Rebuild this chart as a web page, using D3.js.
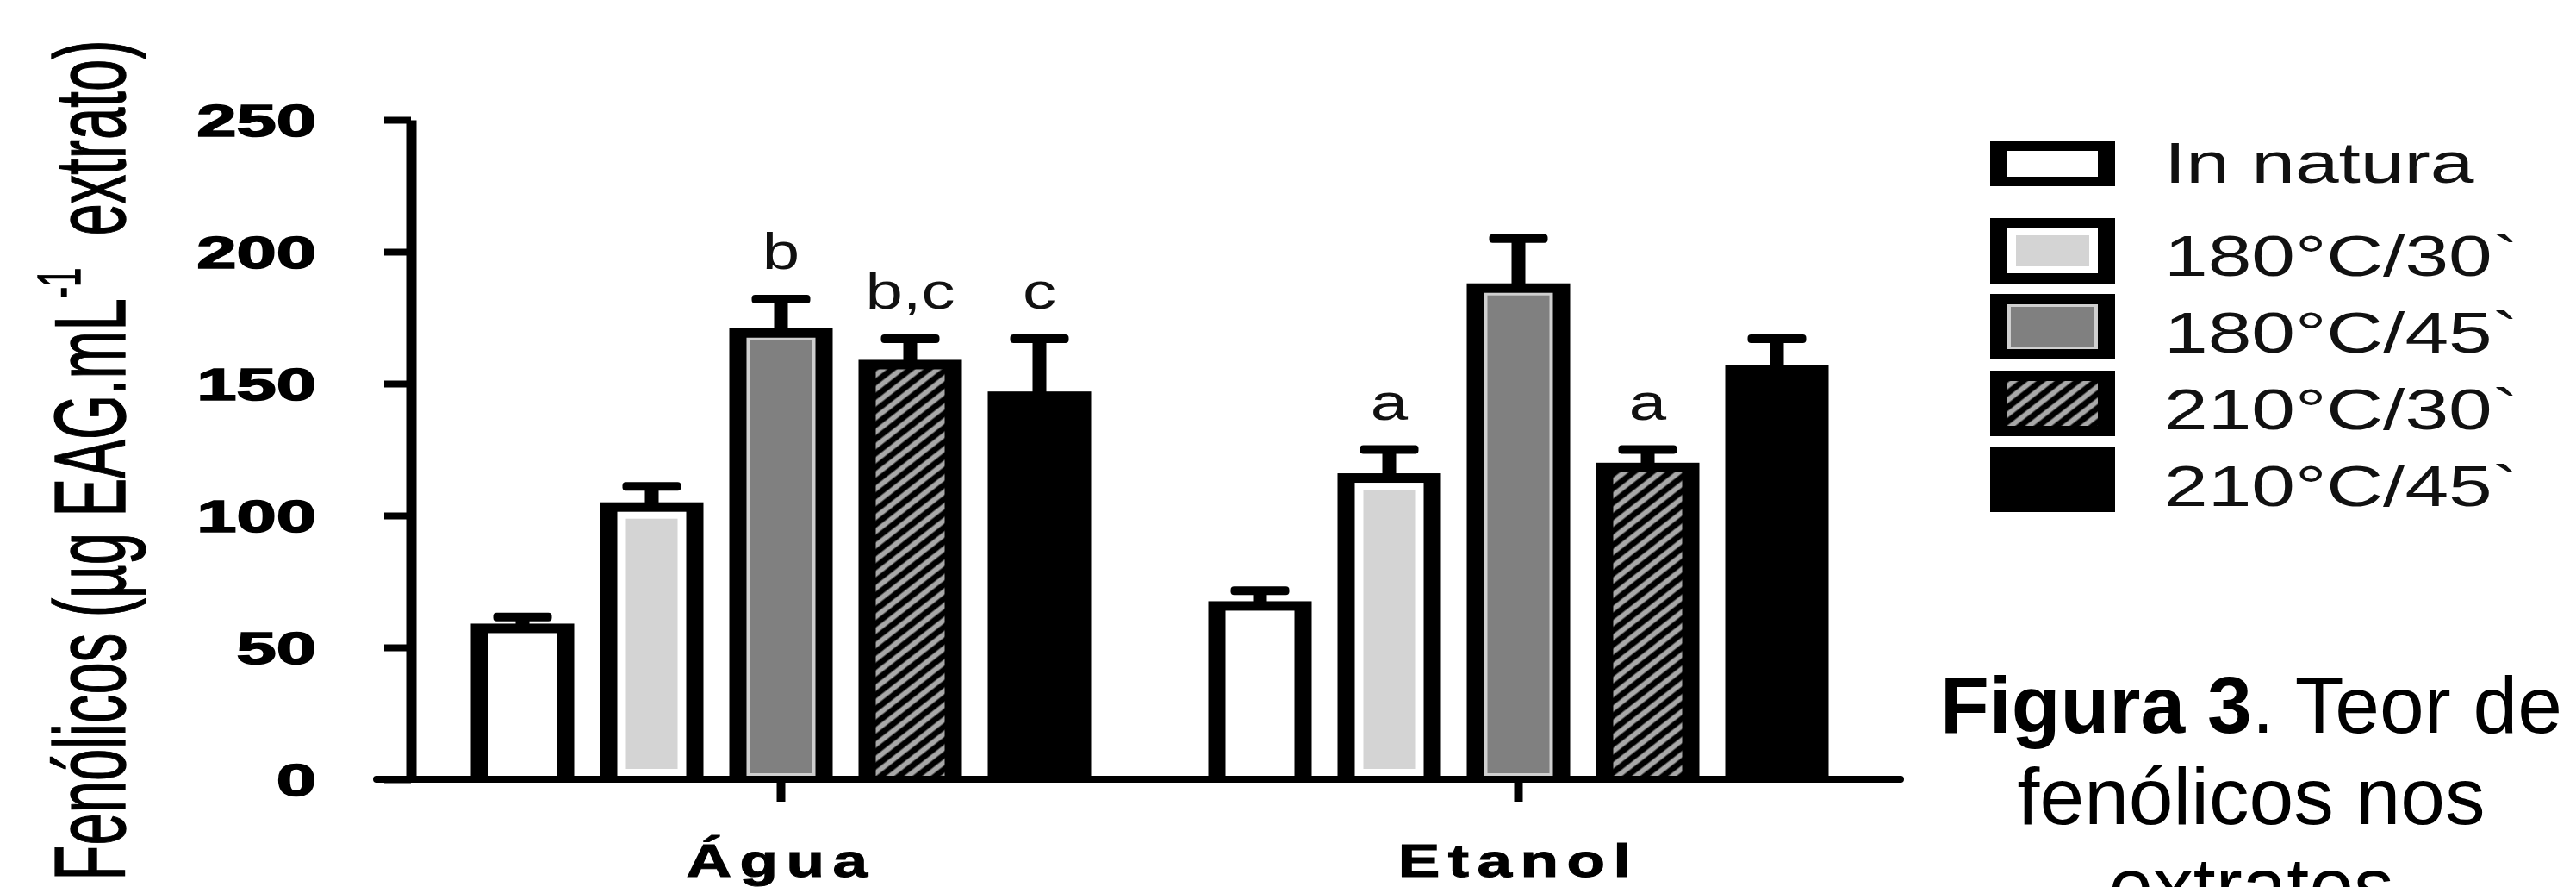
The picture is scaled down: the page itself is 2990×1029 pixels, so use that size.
<!DOCTYPE html>
<html lang="pt">

<head>
	<meta charset="utf-8">
	<title>Figura 3</title>
	<style>
		body {
			margin: 0;
			background: #fff;
		}

		svg {
			display: block;
			font-family: "Liberation Sans", Arial, sans-serif;
		}
	</style>
</head>

<body>
	<script src="https://d3js.org/d3.v7.min.js"></script>
	<script>
		// values
		var categories = ["Água", "Etanol"];
		var series = ["In natura", "180°C/30`", "180°C/45`", "210°C/30`", "210°C/45`"];
		var aguaMeans = [59, 105, 171, 159, 147];
		var aguaErrors = [2.5, 6, 11, 8, 20];
		var etanolMeans = [67.5, 116, 188, 120, 157];
		var etanolErrors = [4, 9, 17, 5, 10];
		var aguaLetters = ["", "", "b", "b,c", "c"];
		var etanolLetters = ["", "a", "", "a", ""];
		var yTicks = [0, 50, 100, 150, 200, 250];

		var yTitle = "Fenólicos (µg EAG.mL";
		var yTitleSup = "-1";
		var yTitleEnd = "  extrato)";
		var captionBold = "Figura 3";
		var captionLines = [". Teor de", "fenólicos nos", "extratos"];

		// how each series is painted (inner frame + core)
		var styles = {
			"In natura": { inner: "#fff", core: null },
			"180°C/30`": { inner: "#fff", core: "#d4d4d4", ix: 10, iy: 8 },
			"180°C/45`": { inner: "#cfcfcf", core: "#808080", ix: 4, iy: 3 },
			"210°C/30`": { inner: "url(#hatch)", core: null },
			"210°C/45`": { inner: "#000", core: null }
		};

		var rows = [];
		categories.forEach(function(c, ci) {
			var means = ci == 0 ? aguaMeans : etanolMeans;
			var errs = ci == 0 ? aguaErrors : etanolErrors;
			var letters = ci == 0 ? aguaLetters : etanolLetters;
			series.forEach(function(s, si) {
				rows.push({ cat: c, serie: s, mean: means[si], err: errs[si], letter: letters[si] });
			});
		});

		var W = 2990, H = 1029;
		var svg = d3.select("body").append("svg")
			.attr("width", W)
			.attr("height", H);

		svg.append("rect").attr("width", W).attr("height", H).attr("fill", "#fff");

		var defs = svg.append("defs");
		var pat = defs.append("pattern")
			.attr("id", "hatch")
			.attr("patternUnits", "userSpaceOnUse")
			.attr("width", 13)
			.attr("height", 13)
			.attr("patternTransform", "rotate(-38)");
		pat.append("rect").attr("width", 13).attr("height", 13).attr("fill", "#000");
		pat.append("rect").attr("y", 3.5).attr("width", 13).attr("height", 6).attr("fill", "#a8a8a8");

		var y = d3.scaleLinear().domain([0, 250]).range([904, 139]);
		var x0 = d3.scaleBand().domain(categories).range([478.5, 2190.5]);
		var x1 = d3.scaleBand().domain(series).range([0, 750]).paddingInner(0.2).paddingOuter(0.1);

		function barX(d) {
			return x0(d.cat) + x0.bandwidth() / 2 - 375 + x1(d.serie);
		}

		var sideW = 20, topW = 11, axisTop = 900;
		var bw = x1.bandwidth();

		// bars
		var bars = svg.append("g").attr("class", "bars")
			.selectAll("g").data(rows).enter().append("g");

		bars.append("rect")
			.attr("x", barX)
			.attr("y", function(d) { return y(d.mean); })
			.attr("width", bw)
			.attr("height", function(d) { return y(0) - y(d.mean); })
			.attr("fill", "#000");

		bars.append("rect")
			.attr("x", function(d) { return barX(d) + sideW; })
			.attr("y", function(d) { return y(d.mean) + topW; })
			.attr("width", bw - 2 * sideW)
			.attr("height", function(d) { return axisTop - y(d.mean) - topW; })
			.attr("fill", function(d) { return styles[d.serie].inner; });

		bars.filter(function(d) { return styles[d.serie].core; })
			.append("rect")
			.attr("x", function(d) { return barX(d) + sideW + styles[d.serie].ix; })
			.attr("y", function(d) { return y(d.mean) + topW + styles[d.serie].iy; })
			.attr("width", function(d) { return bw - 2 * sideW - 2 * styles[d.serie].ix; })
			.attr("height", function(d) { return axisTop - y(d.mean) - topW - 2 * styles[d.serie].iy; })
			.attr("fill", function(d) { return styles[d.serie].core; });

		// error bars (upper only)
		var capW = 68, capH = 10, stemW = 16;
		bars.append("rect")
			.attr("x", function(d) { return barX(d) + bw / 2 - stemW / 2; })
			.attr("y", function(d) { return y(d.mean + d.err); })
			.attr("width", stemW)
			.attr("height", function(d) { return y(d.mean) - y(d.mean + d.err) + 2; })
			.attr("fill", "#000");

		bars.append("rect")
			.attr("x", function(d) { return barX(d) + bw / 2 - capW / 2; })
			.attr("y", function(d) { return y(d.mean + d.err) - capH / 2; })
			.attr("width", capW)
			.attr("height", capH)
			.attr("rx", 4)
			.attr("fill", "#000");

		// significance letters
		bars.filter(function(d) { return d.letter != ""; })
			.append("text")
			.attr("transform", function(d) {
				return "translate(" + (barX(d) + bw / 2) + "," + (y(d.mean + d.err) - capH / 2 - 30) + ") scale(1.3,1)";
			})
			.attr("text-anchor", "middle")
			.attr("font-size", 60)
			.attr("fill", "#111")
			.text(function(d) { return d.letter; });

		// y axis
		var yAxis = svg.append("g")
			.attr("transform", "translate(477,0)")
			.call(d3.axisLeft(y).tickValues(yTicks).tickSize(31).tickSizeOuter(0).tickFormat(""));
		yAxis.select(".domain").attr("stroke-width", 12).attr("stroke", "#000");
		yAxis.selectAll(".tick line").attr("stroke-width", 8).attr("stroke", "#000");
		yAxis.selectAll(".tick text").remove();

		svg.append("g").selectAll("text").data(yTicks).enter().append("text")
			.attr("transform", function(d) { return "translate(367," + (y(d) + 19) + ") scale(1.6,1)"; })
			.attr("text-anchor", "end")
			.attr("font-size", 52)
			.attr("font-weight", "bold")
			.attr("stroke", "#000")
			.attr("stroke-width", 1.5)
			.text(function(d) { return d; });

		// x axis
		svg.append("line")
			.attr("x1", 437).attr("x2", 2206)
			.attr("y1", y(0)).attr("y2", y(0))
			.attr("stroke", "#000")
			.attr("stroke-width", 8)
			.attr("stroke-linecap", "round");

		var xAxis = svg.append("g")
			.attr("transform", "translate(0," + y(0) + ")")
			.call(d3.axisBottom(x0).tickSize(26).tickSizeOuter(0).tickFormat(""));
		xAxis.select(".domain").remove();
		xAxis.selectAll(".tick line").attr("stroke-width", 10).attr("stroke", "#000");

		svg.append("g").selectAll("text").data(categories).enter().append("text")
			.attr("transform", function(d) {
				return "translate(" + (x0(d) + x0.bandwidth() / 2) + ",1017) scale(1.35,1)";
			})
			.attr("text-anchor", "middle")
			.attr("font-size", 54)
			.attr("font-weight", "bold")
			.attr("stroke", "#000")
			.attr("stroke-width", 1)
			.attr("letter-spacing", 7)
			.text(function(d) { return d; });

		// y title
		var yt = svg.append("text")
			.attr("transform", "translate(145,534) scale(1.75,1) rotate(-90)")
			.attr("text-anchor", "middle")
			.attr("font-size", 67)
			.attr("stroke", "#000")
			.attr("stroke-width", 0.8);
		yt.append("tspan").text(yTitle);
		yt.append("tspan").attr("font-size", 40).attr("dy", -30).text(yTitleSup);
		yt.append("tspan").attr("dy", 30).style("white-space", "pre").text(yTitleEnd);

		// legend
		var legTops = [164, 253, 341, 430, 518];
		var legend = svg.append("g").selectAll("g").data(series).enter().append("g");

		legend.append("rect")
			.attr("x", 2310)
			.attr("y", function(d, i) { return legTops[i]; })
			.attr("width", 145)
			.attr("height", function(d, i) { return i == 0 ? 52 : 76; })
			.attr("fill", "#000");

		legend.append("rect")
			.attr("x", 2330)
			.attr("y", function(d, i) { return legTops[i] + (i == 0 ? 11 : 12); })
			.attr("width", 105)
			.attr("height", function(d, i) { return i == 0 ? 30 : 52; })
			.attr("fill", function(d) { return styles[d].inner; });

		legend.filter(function(d) { return styles[d].core; })
			.append("rect")
			.attr("x", function(d) { return 2330 + styles[d].ix; })
			.attr("y", function(d) { return legTops[series.indexOf(d)] + 12 + styles[d].iy; })
			.attr("width", function(d) { return 105 - 2 * styles[d].ix; })
			.attr("height", function(d) { return 52 - 2 * styles[d].iy; })
			.attr("fill", function(d) { return styles[d].core; });

		var legBase = [212, 320, 409, 498, 587];
		legend.append("text")
			.attr("transform", function(d, i) { return "translate(2512," + legBase[i] + ") scale(1.38,1)"; })
			.attr("font-size", 66)
			.attr("fill", "#111")
			.text(function(d) { return d; });

		// caption
		var cap = svg.append("text")
			.attr("text-anchor", "middle")
			.attr("font-size", 93)
			.attr("fill", "#000");
		var l1 = cap.append("tspan").attr("x", 2613).attr("y", 850);
		l1.append("tspan").attr("font-weight", "bold").text(captionBold);
		l1.append("tspan").text(captionLines[0]);
		cap.append("tspan").attr("x", 2613).attr("y", 956).text(captionLines[1]);
		cap.append("tspan").attr("x", 2613).attr("y", 1060).text(captionLines[2]);
	</script>
</body>

</html>
